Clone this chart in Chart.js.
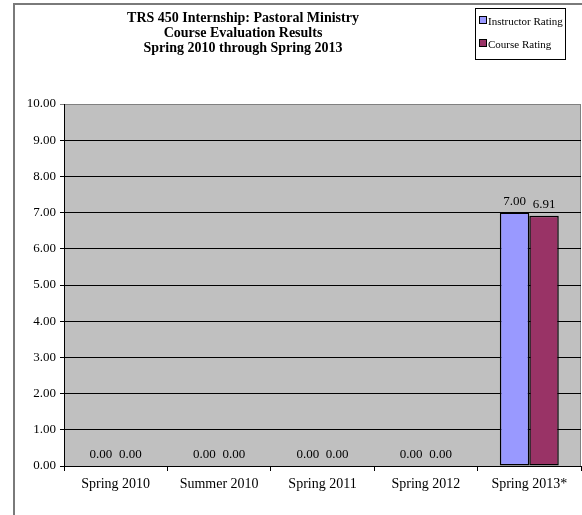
<!DOCTYPE html>
<html>
<head>
<meta charset="utf-8">
<script src="https://cdn.jsdelivr.net/npm/chart.js@4.4.0/dist/chart.umd.min.js"></script>
<style>
  body { margin: 0; background: #fff; }
  #wrap { position: relative; width: 582px; height: 515px; overflow: hidden; font-family: "Liberation Serif", "Times New Roman", serif; }
  #chart { position: absolute; left: 0; top: 0; }
  #frame { position: absolute; left: 13px; top: 3px; width: 700px; height: 700px; border: 2px solid #7a7a7a; box-sizing: border-box; pointer-events: none; }
  #title { position: absolute; left: 0; top: 10px; width: 486px; text-align: center; font-weight: bold; font-size: 14px; line-height: 15px; color: #000; }
  #legend { position: absolute; left: 475px; top: 8px; width: 91px; height: 52px; border: 1px solid #000; background: #fff; font-size: 11px; color: #000; box-sizing: border-box; padding: 5px 0 0 3px; }
  #legend .item { height: 23px; line-height: 14px; white-space: nowrap; }
  #legend .box { display: inline-block; width: 6px; height: 6px; border: 1px solid #000; margin-right: 1px; vertical-align: 1px; }
</style>
</head>
<body>
<div id="wrap">
  <canvas id="chart" width="582" height="515"></canvas>
  <div id="frame"></div>
  <div id="title">TRS 450 Internship: Pastoral Ministry<br>Course Evaluation Results<br>Spring 2010 through Spring 2013</div>
  <div id="legend"></div>
</div>
<script>
var terms = ["Spring 2010", "Summer 2010", "Spring 2011", "Spring 2012", "Spring 2013*"];
var instructorRating = [0, 0, 0, 0, 7.00];
var courseRating = [0, 0, 0, 0, 6.91];
var seriesNames = ["Instructor Rating", "Course Rating"];
var seriesColors = ["#9999FF", "#993366"];
var yTicks = [0, 1, 2, 3, 4, 5, 6, 7, 8, 9, 10];

var serif = "'Liberation Serif', 'Times New Roman', serif";

// legend box, built from the series
var leg = document.getElementById("legend");
for (var i = 0; i < seriesNames.length; i++) {
    leg.innerHTML += '<div class="item"><span class="box" style="background:' + seriesColors[i] + '"></span>' + seriesNames[i] + '</div>';
}

var plotBg = {
    id: 'plotBg',
    beforeDraw: function (chart) {
        var a = chart.chartArea, ctx = chart.ctx;
        ctx.save();
        ctx.fillStyle = "#C0C0C0";
        ctx.fillRect(a.left, a.top, a.right - a.left, a.bottom - a.top);
        ctx.strokeStyle = "#808080";
        ctx.lineWidth = 1;
        ctx.beginPath();
        ctx.moveTo(a.left, a.top + 0.5);
        ctx.lineTo(a.right - 0.5, a.top + 0.5);
        ctx.lineTo(a.right - 0.5, a.bottom);
        ctx.stroke();
        ctx.restore();
    }
};

var valueLabels = {
    id: 'valueLabels',
    afterDatasetsDraw: function (chart) {
        var ctx = chart.ctx;
        ctx.save();
        ctx.font = "13px " + serif;
        ctx.fillStyle = "#000";
        ctx.textAlign = "center";
        ctx.textBaseline = "bottom";
        chart.data.datasets.forEach(function (ds, di) {
            chart.getDatasetMeta(di).data.forEach(function (bar, j) {
                ctx.fillText(ds.data[j].toFixed(2), bar.x, bar.y - 5);
            });
        });
        ctx.restore();
    }
};

var ctx = document.getElementById("chart");
var myChart = new Chart(ctx, {
    type: 'bar',
    data: {
        labels: terms,
        datasets: [
            {
                label: seriesNames[0],
                data: instructorRating,
                backgroundColor: seriesColors[0],
                borderColor: "#000",
                borderWidth: 1.5,
                borderSkipped: false
            },
            {
                label: seriesNames[1],
                data: courseRating,
                backgroundColor: seriesColors[1],
                borderColor: "#000",
                borderWidth: 1.5,
                borderSkipped: false
            }
        ]
    },
    options: {
        responsive: false,
        animation: false,
        categoryPercentage: 0.57,
        barPercentage: 1,
        layout: { padding: { top: 104, left: 0, right: 1, bottom: 0 } },
        plugins: {
            legend: { display: false },
            title: { display: false },
            tooltip: { enabled: false }
        },
        scales: {
            x: {
                grid: { offset: true, drawOnChartArea: false, drawTicks: true, tickLength: 5, color: "#000" },
                border: { color: "#000", width: 1 },
                ticks: { color: "#000", font: { family: serif, size: 14 }, padding: 5 },
                afterFit: function (s) { s.height = 49; }
            },
            y: {
                min: 0,
                max: 10,
                afterBuildTicks: function (s) { s.ticks = yTicks.map(function (v) { return { value: v }; }); },
                grid: {
                    color: function (c) { return c.tick && c.tick.value === 10 ? "#808080" : "#000"; },
                    tickLength: 4
                },
                border: { color: "#000", width: 1 },
                ticks: {
                    color: "#000",
                    font: { family: serif, size: 13 },
                    padding: 4,
                    callback: function (v) { return Number(v).toFixed(2); }
                },
                afterFit: function (s) { s.width = 64; }
            }
        }
    },
    plugins: [plotBg, valueLabels]
});
</script>
</body>
</html>
